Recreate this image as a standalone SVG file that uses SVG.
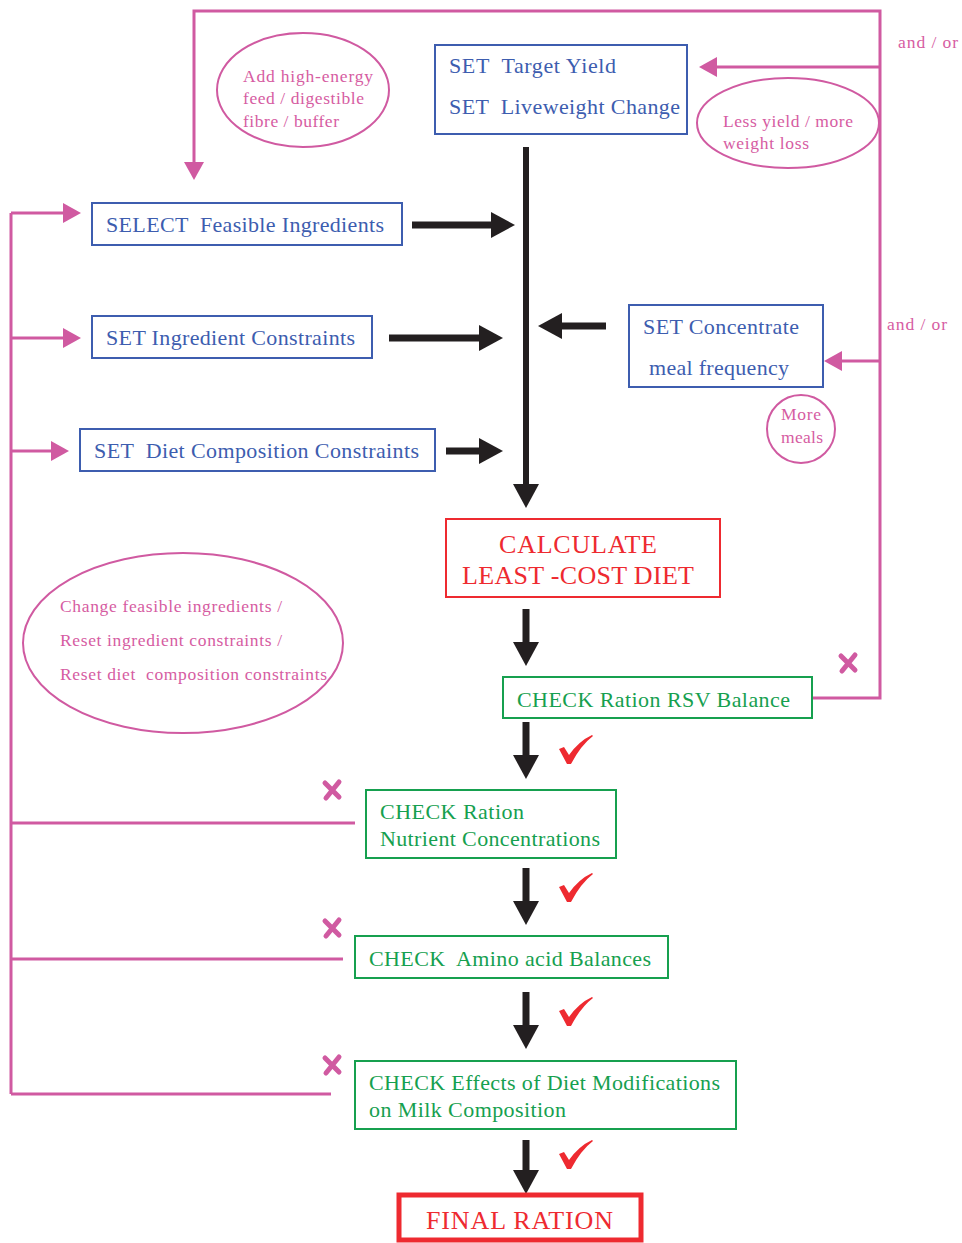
<svg xmlns="http://www.w3.org/2000/svg" width="962" height="1243" viewBox="0 0 962 1243">
<style>
.bb{fill:none;stroke:#3d5daf;stroke-width:2}
.gb{fill:none;stroke:#16a04f;stroke-width:2}
.rb{fill:none;stroke:#ee2a30;stroke-width:2}
.pl{fill:none;stroke:#d05aa1;stroke-width:3}
.pe{fill:none;stroke:#d05aa1;stroke-width:2}
.bl{fill:none;stroke:#231f20;stroke-width:7}
.t{font-family:"Liberation Serif","Times New Roman",serif}
.tb{fill:#3d5daf;font-size:22px}
.tg{fill:#16a04f;font-size:22px}
.tr{fill:#ee2a30;font-size:26px}
.tp{fill:#d65ca2;font-size:17.5px}
.xm{fill:none;stroke:#d05aa1;stroke-width:5;stroke-linecap:round}
.ck{fill:#ee2a30}
</style>
<defs>
<marker id="ah" markerUnits="userSpaceOnUse" markerWidth="24" markerHeight="26" refX="0" refY="13" orient="auto">
<path d="M0,0 L24,13 L0,26 z" fill="#231f20"/>
</marker>
<marker id="ap" markerUnits="userSpaceOnUse" markerWidth="18" markerHeight="20" refX="0" refY="10" orient="auto">
<path d="M0,0 L18,10 L0,20 z" fill="#d05aa1"/>
</marker>
<path id="check" d="M0,14 L5,12 L10,20 Q20,6 33,0 L34,1 Q22,10 12,29 L8,29 Z"/>
</defs>

<g id="connectors">
<polyline class="pl" points="813,698 880,698 880,11 194,11 194,162" marker-end="url(#ap)"/>
<line class="pl" x1="880" y1="67" x2="717" y2="67" marker-end="url(#ap)"/>
<line class="pl" x1="880" y1="361" x2="842" y2="361" marker-end="url(#ap)"/>
<line class="pl" x1="11" y1="213" x2="11" y2="1094"/>
<line class="pl" x1="11" y1="213" x2="63" y2="213" marker-end="url(#ap)"/>
<line class="pl" x1="11" y1="338" x2="63" y2="338" marker-end="url(#ap)"/>
<line class="pl" x1="11" y1="451" x2="51" y2="451" marker-end="url(#ap)"/>
<line class="pl" x1="11" y1="823" x2="355" y2="823"/>
<line class="pl" x1="11" y1="959" x2="343" y2="959"/>
<line class="pl" x1="11" y1="1094" x2="331" y2="1094"/>
<line class="bl" x1="526" y1="147" x2="526" y2="484" style="stroke-width:6" marker-end="url(#ah)"/>
<line class="bl" x1="412" y1="225" x2="491" y2="225" marker-end="url(#ah)"/>
<line class="bl" x1="389" y1="338" x2="479" y2="338" marker-end="url(#ah)"/>
<line class="bl" x1="446" y1="451" x2="479" y2="451" marker-end="url(#ah)"/>
<line class="bl" x1="606" y1="326" x2="562" y2="326" marker-end="url(#ah)"/>
<line class="bl" x1="526" y1="609" x2="526" y2="642" marker-end="url(#ah)"/>
<line class="bl" x1="526" y1="722" x2="526" y2="755" marker-end="url(#ah)"/>
<line class="bl" x1="526" y1="868" x2="526" y2="901" marker-end="url(#ah)"/>
<line class="bl" x1="526" y1="992" x2="526" y2="1025" marker-end="url(#ah)"/>
<line class="bl" x1="526" y1="1140" x2="526" y2="1170" marker-end="url(#ah)"/>
<use href="#check" class="ck" x="559" y="735"/>
<use href="#check" class="ck" x="559" y="873"/>
<use href="#check" class="ck" x="559" y="997"/>
<use href="#check" class="ck" x="559" y="1140"/>
<path class="xm" d="M841,656 L855,670 M855,655 L842,671"/>
<path class="xm" d="M325,783 L339,797 M339,782 L326,798"/>
<path class="xm" d="M325,921 L339,935 M339,920 L326,936"/>
<path class="xm" d="M325,1058 L339,1072 M339,1057 L326,1073"/>
</g>

<g id="and-or-1"><text class="t tp" x="898" y="48" textLength="60">and / or</text></g>
<g id="and-or-2"><text class="t tp" x="887" y="330" textLength="60">and / or</text></g>

<g id="target-yield">
<rect class="bb" x="435" y="45" width="252" height="89"/>
<text class="t tb" x="449" y="73" xml:space="preserve" textLength="167">SET  Target Yield</text>
<text class="t tb" x="449" y="114" xml:space="preserve" textLength="231">SET  Liveweight Change</text>
</g>

<g id="add-energy">
<ellipse class="pe" cx="303" cy="90" rx="86" ry="57"/>
<text class="t tp" x="243" y="82" textLength="130">Add high-energy</text>
<text class="t tp" x="243" y="104" textLength="121">feed / digestible</text>
<text class="t tp" x="243" y="127" textLength="96">fibre / buffer</text>
</g>

<g id="less-yield">
<ellipse class="pe" cx="788" cy="123" rx="91" ry="45"/>
<text class="t tp" x="723" y="127" textLength="130">Less yield / more</text>
<text class="t tp" x="723" y="149" textLength="86">weight loss</text>
</g>

<g id="select-ingredients">
<rect class="bb" x="92" y="203" width="310" height="42"/>
<text class="t tb" x="106" y="232" xml:space="preserve" textLength="278">SELECT  Feasible Ingredients</text>
</g>

<g id="ingredient-constraints">
<rect class="bb" x="92" y="316" width="280" height="42"/>
<text class="t tb" x="106" y="345" textLength="249">SET Ingredient Constraints</text>
</g>

<g id="diet-constraints">
<rect class="bb" x="80" y="429" width="355" height="42"/>
<text class="t tb" x="94" y="458" xml:space="preserve" textLength="325">SET  Diet Composition Constraints</text>
</g>

<g id="concentrate">
<rect class="bb" x="629" y="305" width="194" height="82"/>
<text class="t tb" x="643" y="334" textLength="156">SET Concentrate</text>
<text class="t tb" x="649" y="375" textLength="140">meal frequency</text>
</g>

<g id="more-meals">
<circle class="pe" cx="801" cy="429" r="34"/>
<text class="t tp" x="781" y="420" textLength="40">More</text>
<text class="t tp" x="781" y="443" textLength="42">meals</text>
</g>

<g id="calculate">
<rect class="rb" x="446" y="519" width="274" height="78"/>
<text class="t tr" x="499" y="553" textLength="158">CALCULATE</text>
<text class="t tr" x="462" y="584" textLength="232">LEAST -COST DIET</text>
</g>

<g id="change-feasible">
<ellipse class="pe" cx="183" cy="643" rx="160" ry="90"/>
<text class="t tp" x="60" y="612" textLength="222">Change feasible ingredients /</text>
<text class="t tp" x="60" y="646" textLength="222">Reset ingredient constraints /</text>
<text class="t tp" x="60" y="680" xml:space="preserve" textLength="267">Reset diet  composition constraints</text>
</g>

<g id="check-rsv">
<rect class="gb" x="503" y="677" width="309" height="41"/>
<text class="t tg" x="517" y="707" textLength="273">CHECK Ration RSV Balance</text>
</g>

<g id="check-nutrient">
<rect class="gb" x="366" y="790" width="250" height="68"/>
<text class="t tg" x="380" y="819" textLength="144">CHECK Ration</text>
<text class="t tg" x="380" y="846" textLength="220">Nutrient Concentrations</text>
</g>

<g id="check-amino">
<rect class="gb" x="355" y="936" width="313" height="42"/>
<text class="t tg" x="369" y="966" xml:space="preserve" textLength="282">CHECK  Amino acid Balances</text>
</g>

<g id="check-effects">
<rect class="gb" x="355" y="1061" width="381" height="68"/>
<text class="t tg" x="369" y="1090" textLength="351">CHECK Effects of Diet Modifications</text>
<text class="t tg" x="369" y="1117" textLength="197">on Milk Composition</text>
</g>

<g id="final-ration">
<rect class="rb" x="399" y="1195" width="242" height="45" style="stroke-width:5"/>
<text class="t tr" x="426" y="1229" textLength="187">FINAL RATION</text>
</g>
</svg>
